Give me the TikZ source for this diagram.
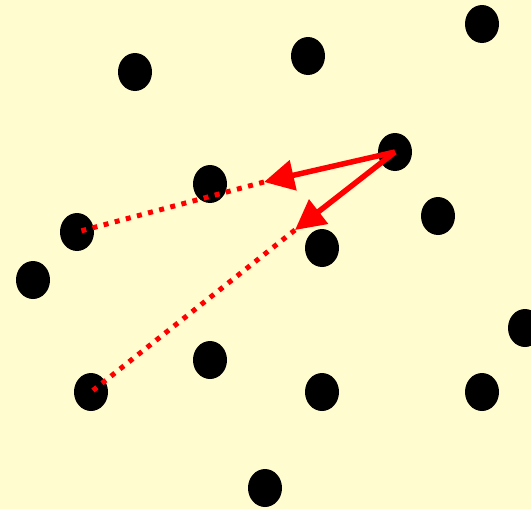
\documentclass[tikz,border=0pt]{standalone}
\usetikzlibrary{arrows.meta,shapes.geometric}
\definecolor{bg}{HTML}{FFFDD0}
\begin{document}
\begin{tikzpicture}[x=1pt,y=-1pt,
  dot/.style={ellipse,fill=black,minimum width=34pt,minimum height=38pt,inner sep=0pt},
  move/.style={red,line width=5.5pt,-{Triangle[length=30pt,width=30pt]}},
  trail/.style={red,line width=5pt,dash pattern=on 5pt off 6.5pt}]
\fill[bg] (0,0) rectangle (531,509);
\useasboundingbox (0,0) rectangle (531,509);
\begin{scope}
\clip (0,0) rectangle (531,509);
\node[dot] (d1) at (482,24) {};
\node[dot] (d2) at (135,72) {};
\node[dot] (d3) at (308,56) {};
\node[dot] (d4) at (395,152) {};
\node[dot] (d5) at (210,184) {};
\node[dot] (d6) at (438,216) {};
\node[dot] (d7) at (77,232) {};
\node[dot] (d8) at (322,248) {};
\node[dot] (d9) at (33,280) {};
\node[dot] (d10) at (525,328) {};
\node[dot] (d11) at (210,360) {};
\node[dot] (d12) at (91,392) {};
\node[dot] (d13) at (322,392) {};
\node[dot] (d14) at (482,392) {};
\node[dot] (d15) at (265,488) {};
\end{scope}
\coordinate (t1) at (264,182);
\coordinate (t2) at (295,230);
\draw[trail] (t1) -- (d7.center);
\draw[trail] (t2) -- (d12.center);
\draw[move] (d4.center) -- (t1);
\draw[move] (d4.center) -- (t2);
\end{tikzpicture}
\end{document}
